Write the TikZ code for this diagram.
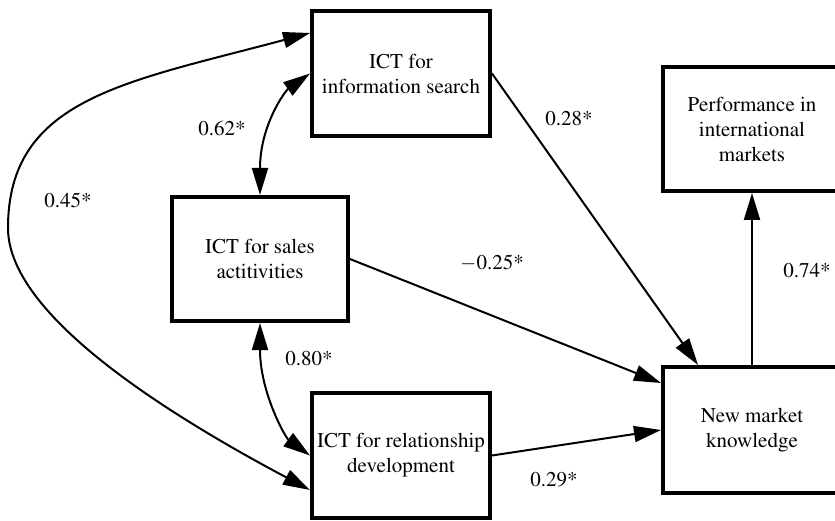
\documentclass[tikz,border=0pt]{standalone}
\usepackage[T1]{fontenc}
\usepackage{mathptmx}
\usetikzlibrary{arrows.meta}

\begin{document}
\begin{tikzpicture}[x=1pt,y=-1pt,
    >={Triangle[length=27pt,width=16pt]},
    construct/.style={draw,line width=4pt,rectangle,align=center,
      inner sep=2pt,font=\rmfamily\fontsize{21}{25}\selectfont},
    path/.style={line width=2pt,->},
    corr/.style={line width=2pt,<->},
    coef/.style={inner sep=0pt,font=\rmfamily\fontsize{21}{25}\selectfont}]
  \useasboundingbox (0,0) rectangle (835,521);

  % constructs
  \node[construct,minimum width=178pt,minimum height=125pt] (info) at (401,73.5)
    {ICT for\\information search};
  \node[construct,minimum width=176pt,minimum height=124pt] (sales) at (260,259)
    {ICT for sales\\actitivities};
  \node[construct,minimum width=178pt,minimum height=125pt] (rel) at (401,455.5)
    {ICT for relationship\\development};
  \node[construct,minimum width=178pt,minimum height=124pt] (perf) at (752,129)
    {Performance in\\international\\markets};
  \node[construct,minimum width=178pt,minimum height=126pt] (nmk) at (752,430)
    {New market\\knowledge};

  % structural paths
  \draw[path] (info.east) -- ([xshift=37pt]nmk.north west);
  \draw[path] (sales.east) -- ([yshift=-18pt]nmk.north west);
  \draw[path] (rel.east) -- (nmk.west);
  \draw[path] (nmk.north) -- (perf.south);

  % correlations between the ICT uses
  \draw[corr] (info.west) to[out=215,in=90,out distance=30pt,in distance=70pt] (sales.north);
  \draw[corr] (sales.south) to[out=270,in=144,out distance=70pt,in distance=30pt] (rel.west);
  \coordinate (farleft) at (8,228);
  \draw[corr] ([yshift=-24pt]info.north west)
      to[out=195,in=90,out distance=190pt,in distance=130pt] (farleft)
      to[out=270,in=152,out distance=80pt,in distance=190pt] ([yshift=30pt]rel.south west);

  % coefficients
  \node[coef] (c062) at (222,128) {0.62*};
  \node[coef] (c045) at (68,200) {0.45*};
  \node[coef] (c080) at (309,358) {0.80*};
  \node[coef] (c028) at (569,118) {0.28*};
  \node[coef] (c025) at (492,263) {$-$0.25*};
  \node[coef] (c029) at (554,480) {0.29*};
  \node[coef] (c074) at (807,270) {0.74*};
\end{tikzpicture}
\end{document}
